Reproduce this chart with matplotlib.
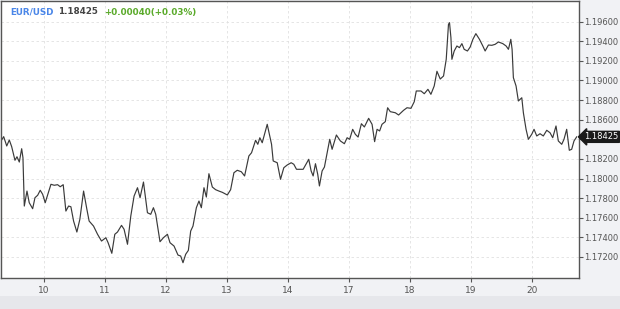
#!/usr/bin/env python3

import matplotlib
matplotlib.use('Agg')
import matplotlib.pyplot as plt
import matplotlib.patches as mpatches
import matplotlib.transforms as mtransforms

plt.rc('font', size=6.5)
plt.rc('xtick', labelsize=6.5)
plt.rc('ytick', labelsize=6)

# trading-day index (0 = Aug 10, weekend skipped) and EUR/USD quotes
t = [-0.704, -0.660, -0.610, -0.568, -0.529, -0.475, -0.442, -0.404, -0.365, -0.344,
     -0.322, -0.278, -0.241, -0.185, -0.147, -0.103, -0.061, -0.021, 0.021, 0.115,
     0.169, 0.224, 0.267, 0.316, 0.360, 0.404, 0.442, 0.486, 0.540, 0.589,
     0.650, 0.704, 0.741, 0.813, 0.879, 0.944, 1.015, 1.052, 1.113, 1.162,
     1.206, 1.272, 1.314, 1.370, 1.424, 1.478, 1.534, 1.576, 1.632, 1.697,
     1.751, 1.795, 1.833, 1.903, 1.959, 2.025, 2.067, 2.133, 2.198, 2.242,
     2.280, 2.324, 2.368, 2.406, 2.444, 2.499, 2.542, 2.581, 2.624, 2.663,
     2.705, 2.761, 2.815, 2.869, 2.925, 3.007, 3.061, 3.115, 3.170, 3.236,
     3.290, 3.360, 3.404, 3.470, 3.507, 3.540, 3.579, 3.661, 3.732, 3.759,
     3.825, 3.879, 3.933, 3.989, 4.054, 4.097, 4.141, 4.250, 4.342, 4.381,
     4.414, 4.452, 4.489, 4.517, 4.561, 4.599, 4.643, 4.686, 4.725, 4.795,
     4.861, 4.926, 4.971, 5.013, 5.062, 5.106, 5.151, 5.205, 5.254, 5.324,
     5.380, 5.422, 5.462, 5.504, 5.543, 5.597, 5.635, 5.679, 5.761, 5.815,
     5.897, 5.953, 6.018, 6.072, 6.105, 6.182, 6.236, 6.296, 6.345, 6.399,
     6.444, 6.498, 6.552, 6.596, 6.633, 6.650, 6.673, 6.689, 6.727, 6.771,
     6.813, 6.853, 6.890, 6.944, 6.989, 7.033, 7.082, 7.141, 7.196, 7.234,
     7.288, 7.344, 7.398, 7.452, 7.524, 7.578, 7.616, 7.655, 7.676, 7.697,
     7.741, 7.779, 7.807, 7.835, 7.861, 7.905, 7.943, 7.998, 8.036, 8.080,
     8.134, 8.188, 8.244, 8.298, 8.342, 8.396, 8.434, 8.490, 8.527, 8.571,
     8.614, 8.653, 8.691, 8.735]
price = [1.18383, 1.18427, 1.18332, 1.18393, 1.18325, 1.18186, 1.18222, 1.18168, 1.18304, 1.18212,
         1.17719, 1.17872, 1.17753, 1.17692, 1.17804, 1.17829, 1.17880, 1.17839, 1.17753, 1.17941,
         1.17931, 1.17937, 1.17916, 1.17937, 1.17668, 1.17719, 1.17712, 1.17566, 1.17454, 1.17584,
         1.17872, 1.17686, 1.17566, 1.17515, 1.17431, 1.17362, 1.17396, 1.17345, 1.17237, 1.17431,
         1.17454, 1.17522, 1.17482, 1.17329, 1.17617, 1.17821, 1.17906, 1.17804, 1.17964, 1.17651,
         1.17635, 1.17702, 1.17635, 1.17355, 1.17396, 1.17431, 1.17345, 1.17311, 1.17219, 1.17209,
         1.17141, 1.17227, 1.17267, 1.17464, 1.17515, 1.17702, 1.17770, 1.17702, 1.17906, 1.17811,
         1.18049, 1.17913, 1.17886, 1.17872, 1.17859, 1.17832, 1.17886, 1.18059, 1.18084, 1.18069,
         1.18026, 1.18230, 1.18263, 1.18390, 1.18349, 1.18416, 1.18365, 1.18553, 1.18349, 1.18179,
         1.18161, 1.17992, 1.18110, 1.18138, 1.18161, 1.18145, 1.18094, 1.18094, 1.18196, 1.18077,
         1.18026, 1.18151, 1.18043, 1.17924, 1.18077, 1.18117, 1.18263, 1.18400, 1.18298, 1.18444,
         1.18383, 1.18355, 1.18416, 1.18400, 1.18502, 1.18451, 1.18423, 1.18559, 1.18526, 1.18614,
         1.18553, 1.18376, 1.18502, 1.18485, 1.18553, 1.18580, 1.18722, 1.18682, 1.18671, 1.18648,
         1.18696, 1.18722, 1.18716, 1.18784, 1.18893, 1.18893, 1.18865, 1.18910, 1.18859, 1.18944,
         1.19094, 1.19015, 1.19046, 1.19216, 1.19573, 1.19590, 1.19437, 1.19216, 1.19301, 1.19352,
         1.19335, 1.19376, 1.19318, 1.19301, 1.19342, 1.19420, 1.19478, 1.19420, 1.19352, 1.19301,
         1.19362, 1.19359, 1.19369, 1.19393, 1.19376, 1.19352, 1.19318, 1.19420, 1.19318, 1.19029,
         1.18944, 1.18791, 1.18808, 1.18824, 1.18671, 1.18502, 1.18400, 1.18451, 1.18502, 1.18434,
         1.18457, 1.18434, 1.18492, 1.18467, 1.18416, 1.18536, 1.18383, 1.18349, 1.18400, 1.18502,
         1.18288, 1.18298, 1.18383, 1.18425]

day_ticks = [0, 1, 2, 3, 4, 5, 6, 7, 8]
day_labels = ['10', '11', '12', '13', '14', '17', '18', '19', '20']
price_ticks = [1.172, 1.174, 1.176, 1.178, 1.180, 1.182, 1.184,
               1.186, 1.188, 1.190, 1.192, 1.194, 1.196]
last_price = 1.18425
change = '+0.00040(+0.03%)'

fig = plt.figure(figsize=(6.2, 3.09), dpi=100, facecolor='#f1f2f5')
# darker strip at the bottom
fig.patches.append(mpatches.Rectangle((0, 0), 1, 13 / 309, transform=fig.transFigure,
                                      facecolor='#e6e7eb', edgecolor='none', zorder=0))

ax = fig.add_axes([1 / 620, 31 / 309, 578 / 620, 277 / 309])
ax.set_facecolor('white')
ax.plot(t, price, color='#3a3a3a', linewidth=0.85)

ax.set_xlim(-0.704, 8.773)
ax.set_ylim(1.16985, 1.19811)

ax.xaxis.set_ticks(day_ticks)
ax.xaxis.set_ticklabels(day_labels)
ax.yaxis.set_ticks(price_ticks)
# the 1.18400 label sits under the last-price marker, so leave it empty
ax.yaxis.set_ticklabels(['' if abs(p - last_price) < 0.001 else '%.5f' % p
                         for p in price_ticks])
ax.yaxis.tick_right()

ax.tick_params(axis='y', direction='out', length=3, width=0.8, color='#555555',
               labelcolor='#555555', pad=1)
ax.tick_params(axis='x', direction='out', length=3, width=0.8, color='#555555',
               labelcolor='#555555', pad=3)

ax.grid(which='major', linestyle=(0, (3, 3)), linewidth=0.6, color='#e0e0e0')
ax.set_axisbelow(True)
for side in ['top', 'right', 'bottom', 'left']:
    ax.spines[side].set_color('#555555')
    ax.spines[side].set_linewidth(1.0)

ax.set_xlabel('Aug/2020', color='#555555', fontsize=6.5, labelpad=4)

# current price marker on the right axis
trans = mtransforms.blended_transform_factory(ax.transAxes, ax.transData)
ax.text(1.009, last_price, '%.5f' % last_price, transform=trans, ha='left', va='center',
        color='white', fontsize=6, clip_on=False,
        bbox=dict(boxstyle='larrow,pad=0.12', facecolor='#1a1a1a', edgecolor='#1a1a1a'))

# header
hy = 1 - 11 / 277
ax.text(9 / 578, hy, 'EUR/USD', transform=ax.transAxes, ha='left', va='center',
        color='#4a86e8', fontsize=6.3, fontweight='bold')
ax.text(57 / 578, hy, '%.5f' % last_price, transform=ax.transAxes, ha='left',
        va='center', color='#444444', fontsize=6.3, fontweight='bold')
ax.text(103 / 578, hy, change, transform=ax.transAxes, ha='left', va='center',
        color='#5aaa2a', fontsize=6.3, fontweight='bold')

plt.savefig('out.png', dpi=100, facecolor=fig.get_facecolor())
